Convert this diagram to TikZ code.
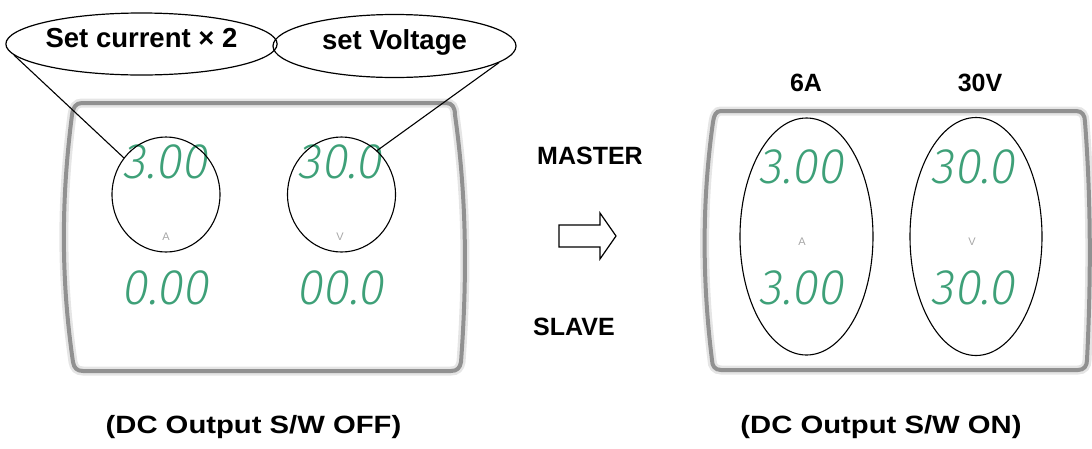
\documentclass[tikz,border=0pt]{standalone}
\usepackage{fontspec}
\setmainfont{Liberation Sans}
\newfontfamily\capfont[FakeStretch=1.17]{Liberation Sans}
\newfontfamily\segfont[FakeSlant=0.16,FakeStretch=0.95]{Fira Sans Light}
\usetikzlibrary{shapes.geometric}
\definecolor{segcol}{RGB}{62,160,120}
\definecolor{framecol}{RGB}{145,145,145}
\begin{document}
\begin{tikzpicture}[x=1pt,y=-1pt,
  callout/.style={ellipse, draw, line width=1.2pt, inner sep=0pt, font=\bfseries\fontsize{27.5}{30}\selectfont, text height=0.72em, text depth=0pt},
  zoomring/.style={ellipse, draw, line width=1.1pt, inner sep=0pt},
  lbl/.style={font=\bfseries\fontsize{25}{28}\selectfont, inner sep=0pt, text height=0.72em, text depth=0pt},
  caption/.style={font=\capfont\bfseries\fontsize{25}{28}\selectfont, inner sep=0pt, text height=0.72em, text depth=0pt},
  seg/.style={font=\segfont\fontsize{50}{52}\selectfont, text=segcol, inner sep=0pt, text height=0.69em, text depth=0pt},
  unitlbl/.style={font=\fontsize{11}{12}\selectfont, text=gray!70, inner sep=0pt},
  panel/.style={draw=framecol, line width=4pt, line join=round, preaction={draw=gray!20, line width=9pt}},
  conn/.style={line width=1.1pt}]
\useasboundingbox (0,0) rectangle (1092,448);

% left panel
\draw[panel] (82,103) -- (446,103) .. controls (452,103) and (455,107) .. (455,115)
  .. controls (467,200) and (467,280) .. (461,362)
  .. controls (460,368) and (457,371) .. (451,371) -- (83,371)
  .. controls (77,371) and (74,368) .. (73,362)
  .. controls (61,280) and (61,200) .. (72,115)
  .. controls (73,107) and (76,103) .. (82,103) -- cycle;
% right panel
\draw[panel] (721,111) -- (1076,111) .. controls (1082,111) and (1085,115) .. (1085,122)
  .. controls (1091,200) and (1091,280) .. (1087,360)
  .. controls (1087,366) and (1084,370) .. (1078,370) -- (721,370)
  .. controls (715,370) and (712,366) .. (712,360)
  .. controls (702,280) and (702,200) .. (713,122)
  .. controls (714,115) and (716,111) .. (721,111) -- cycle;

% left displays
\node[seg] (la1) at (165,175.5) {3.00};
\node[seg] (lv1) at (340,175.5) {30.0};
\node[unitlbl] (lau) at (166,237) {A};
\node[unitlbl] (lvu) at (340,237) {V};
\node[seg] (la2) at (165,301.5) {0.00};
\node[seg] (lv2) at (340,301.5) {00.0};

% right displays
\node[seg] (ra1) at (801,180) {3.00};
\node[seg] (rv1) at (973,180) {30.0};
\node[unitlbl] (rau) at (802,242) {A};
\node[unitlbl] (rvu) at (972,242) {V};
\node[seg] (ra2) at (801,301.5) {3.00};
\node[seg] (rv2) at (973,301.5) {30.0};

% rings
\node[zoomring, minimum width=108pt, minimum height=115pt] (c1) at (166,194.5) {};
\node[zoomring, minimum width=108pt, minimum height=115pt] (c2) at (341.5,194.5) {};
\node[zoomring, minimum width=133pt, minimum height=237pt] (rA) at (806.5,236.5) {};
\node[zoomring, minimum width=132pt, minimum height=238pt] (rV) at (976,236.5) {};

% callouts
\node[callout, minimum width=263pt, minimum height=62pt] (e1) at (141.5,44) {Set current × 2};
\node[callout, minimum width=243pt, minimum height=63pt] (e2) at (394.5,46) {set Voltage};
\draw[conn] (e1.185) -- (c1.139);
\draw[conn] (e2.351) -- (c2.51);

% labels
\node[lbl] (l6a) at (806,87.5) {6A};
\node[lbl] (l30v) at (980,87.5) {30V};
\node[lbl, anchor=west] (master) at (537,160.5) {MASTER};
\node[lbl, anchor=west] (slave) at (533,332) {SLAVE};

% block arrow
\draw[line width=1.2pt, line join=miter] (559,225) -- (600,225) -- (600,213) -- (616,236)
  -- (600,259) -- (600,247) -- (559,247) -- cycle;

% captions
\node[caption] (capoff) at (253.5,430) {(DC Output S/W OFF)};
\node[caption] (capon) at (881,430) {(DC Output S/W ON)};
\end{tikzpicture}
\end{document}
